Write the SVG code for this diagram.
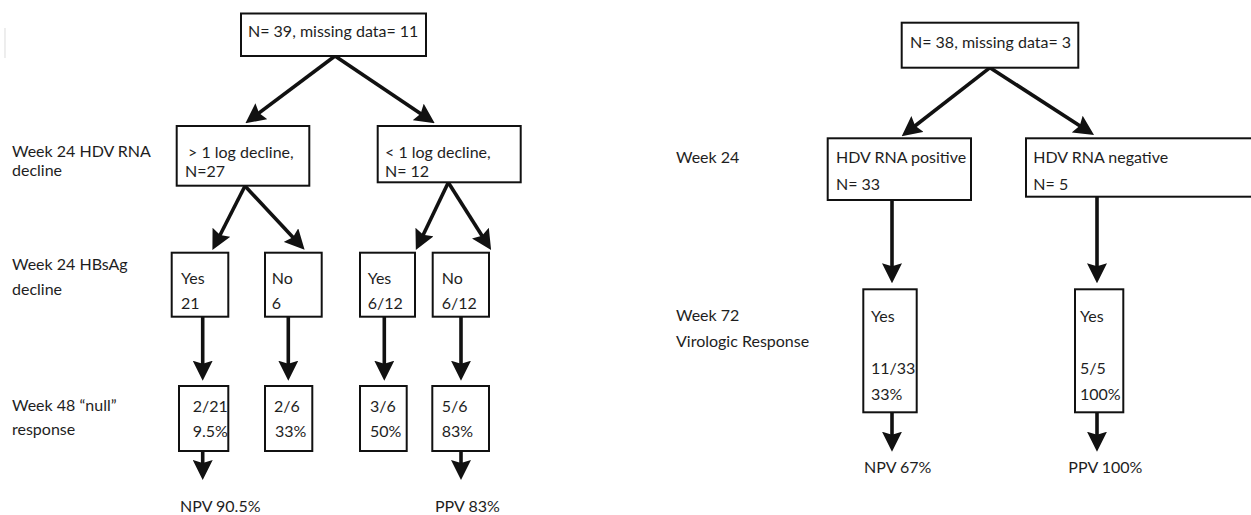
<svg xmlns="http://www.w3.org/2000/svg" width="1251" height="515" viewBox="0 0 1251 515">
<style>
text{font-family:Lato,"Liberation Sans",Arial,sans-serif;font-size:16px;fill:#1e1e1e}
.box{fill:#fff;stroke:#111;stroke-width:2}
.arr{stroke:#111;stroke-width:3.6;fill:none;marker-end:url(#ah)}
</style>
<defs>
<marker id="ah" viewBox="0 0 20 20" refX="9" refY="10" markerWidth="20" markerHeight="20" markerUnits="userSpaceOnUse" orient="auto">
<path d="M0,0 L20,10 L0,20 L3,10 z" fill="#111"/>
</marker>
</defs>
<rect width="1251" height="515" fill="#fff"/>
<line x1="5" y1="28" x2="5" y2="58" stroke="#e2e2e2" stroke-width="1.2"/>

<g id="labels">
<text x="12" y="157">Week 24 HDV RNA</text>
<text x="12" y="176">decline</text>
<text x="12" y="270">Week 24 HBsAg</text>
<text x="12" y="295">decline</text>
<text x="12" y="411">Week 48 “null”</text>
<text x="12" y="435">response</text>
<text x="676" y="163">Week 24</text>
<text x="676" y="321">Week 72</text>
<text x="676" y="347">Virologic Response</text>
</g>

<g id="connectors">
<line class="arr" x1="335" y1="56" x2="254.2" y2="116.6"/>
<line class="arr" x1="335" y1="56" x2="425.6" y2="117"/>
<line class="arr" x1="245" y1="186" x2="217.4" y2="240.3"/>
<line class="arr" x1="245" y1="186" x2="297.1" y2="241.7"/>
<line class="arr" x1="448.3" y1="182.5" x2="420.6" y2="240.2"/>
<line class="arr" x1="448.3" y1="182.5" x2="485.2" y2="240.7"/>
<line class="arr" x1="202.7" y1="317" x2="202.7" y2="369.7"/>
<line class="arr" x1="288.3" y1="317" x2="288.3" y2="369.7"/>
<line class="arr" x1="384.3" y1="317" x2="384.3" y2="369.7"/>
<line class="arr" x1="461" y1="317" x2="461" y2="369.7"/>
<line class="arr" x1="202.7" y1="451" x2="202.7" y2="469"/>
<line class="arr" x1="461" y1="451" x2="461" y2="469"/>
<line class="arr" x1="990" y1="67.7" x2="910.4" y2="129.5"/>
<line class="arr" x1="990" y1="67.7" x2="1084.8" y2="129"/>
<line class="arr" x1="892" y1="200" x2="892" y2="272.3"/>
<line class="arr" x1="1097" y1="196.7" x2="1097" y2="272.3"/>
<line class="arr" x1="892" y1="412.3" x2="892" y2="440.7"/>
<line class="arr" x1="1097" y1="412.3" x2="1097" y2="440.7"/>
</g>

<g id="n-root-left">
<rect class="box" x="241" y="13.5" width="185" height="42.5"/>
<text x="248" y="36.7">N= 39, missing data= 11</text>
</g>
<g id="n-gt1log">
<rect class="box" x="176.7" y="126" width="132.6" height="59.7"/>
<text x="188" y="157.5">&gt; 1 log decline,</text>
<text x="185" y="177">N=27</text>
</g>
<g id="n-lt1log">
<rect class="box" x="377.7" y="126" width="143" height="56.3"/>
<text x="385" y="157.5">&lt; 1 log decline,</text>
<text x="385" y="177">N= 12</text>
</g>
<g id="n-yes21">
<rect class="box" x="171.7" y="252.7" width="56.6" height="64"/>
<text x="181" y="284.3">Yes</text>
<text x="181" y="309.3">21</text>
</g>
<g id="n-no6">
<rect class="box" x="265" y="252.7" width="56.7" height="64"/>
<text x="271.7" y="284.3">No</text>
<text x="271.7" y="309.3">6</text>
</g>
<g id="n-yes612">
<rect class="box" x="360" y="252.7" width="55" height="64"/>
<text x="367.7" y="284.3">Yes</text>
<text x="367.7" y="309.3">6/12</text>
</g>
<g id="n-no612">
<rect class="box" x="432.7" y="252.7" width="56.3" height="64"/>
<text x="441.7" y="284.3">No</text>
<text x="441.7" y="309.3">6/12</text>
</g>
<g id="n-r1">
<rect class="box" x="179" y="386" width="49.3" height="65"/>
<text x="192.7" y="411.7">2/21</text>
<text x="192.7" y="436.7">9.5%</text>
</g>
<g id="n-r2">
<rect class="box" x="265" y="386" width="47.3" height="65"/>
<text x="274" y="411.7">2/6</text>
<text x="275" y="436.7">33%</text>
</g>
<g id="n-r3">
<rect class="box" x="360" y="386" width="46.7" height="65"/>
<text x="370" y="411.7">3/6</text>
<text x="370" y="436.7">50%</text>
</g>
<g id="n-r4">
<rect class="box" x="432.3" y="386" width="56.7" height="65"/>
<text x="441.7" y="411.7">5/6</text>
<text x="441.7" y="436.7">83%</text>
</g>
<g id="n-npv-left">
<text x="180" y="511.5">NPV 90.5%</text>
</g>
<g id="n-ppv-left">
<text x="435" y="511.5">PPV 83%</text>
</g>

<g id="n-root-right">
<rect class="box" x="901.7" y="22.7" width="176.6" height="45"/>
<text x="910" y="48.3">N= 38, missing data= 3</text>
</g>
<g id="n-pos">
<rect class="box" x="827.7" y="138.3" width="143.3" height="61.7"/>
<text x="836" y="163.3">HDV RNA positive</text>
<text x="836" y="190">N= 33</text>
</g>
<g id="n-neg">
<rect class="box" x="1026" y="138.3" width="240" height="58.4"/>
<text x="1033.3" y="163.3">HDV RNA negative</text>
<text x="1033.3" y="190">N= 5</text>
</g>
<g id="n-yes-pos">
<rect class="box" x="863.3" y="289.3" width="53.4" height="123"/>
<text x="871" y="321.7">Yes</text>
<text x="871" y="374">11/33</text>
<text x="871" y="400">33%</text>
</g>
<g id="n-yes-neg">
<rect class="box" x="1075" y="289.3" width="48.3" height="123"/>
<text x="1080" y="321.7">Yes</text>
<text x="1080" y="374">5/5</text>
<text x="1080" y="400">100%</text>
</g>
<g id="n-npv-right">
<text x="864" y="472.7">NPV 67%</text>
</g>
<g id="n-ppv-right">
<text x="1068.3" y="472.7">PPV 100%</text>
</g>
</svg>
